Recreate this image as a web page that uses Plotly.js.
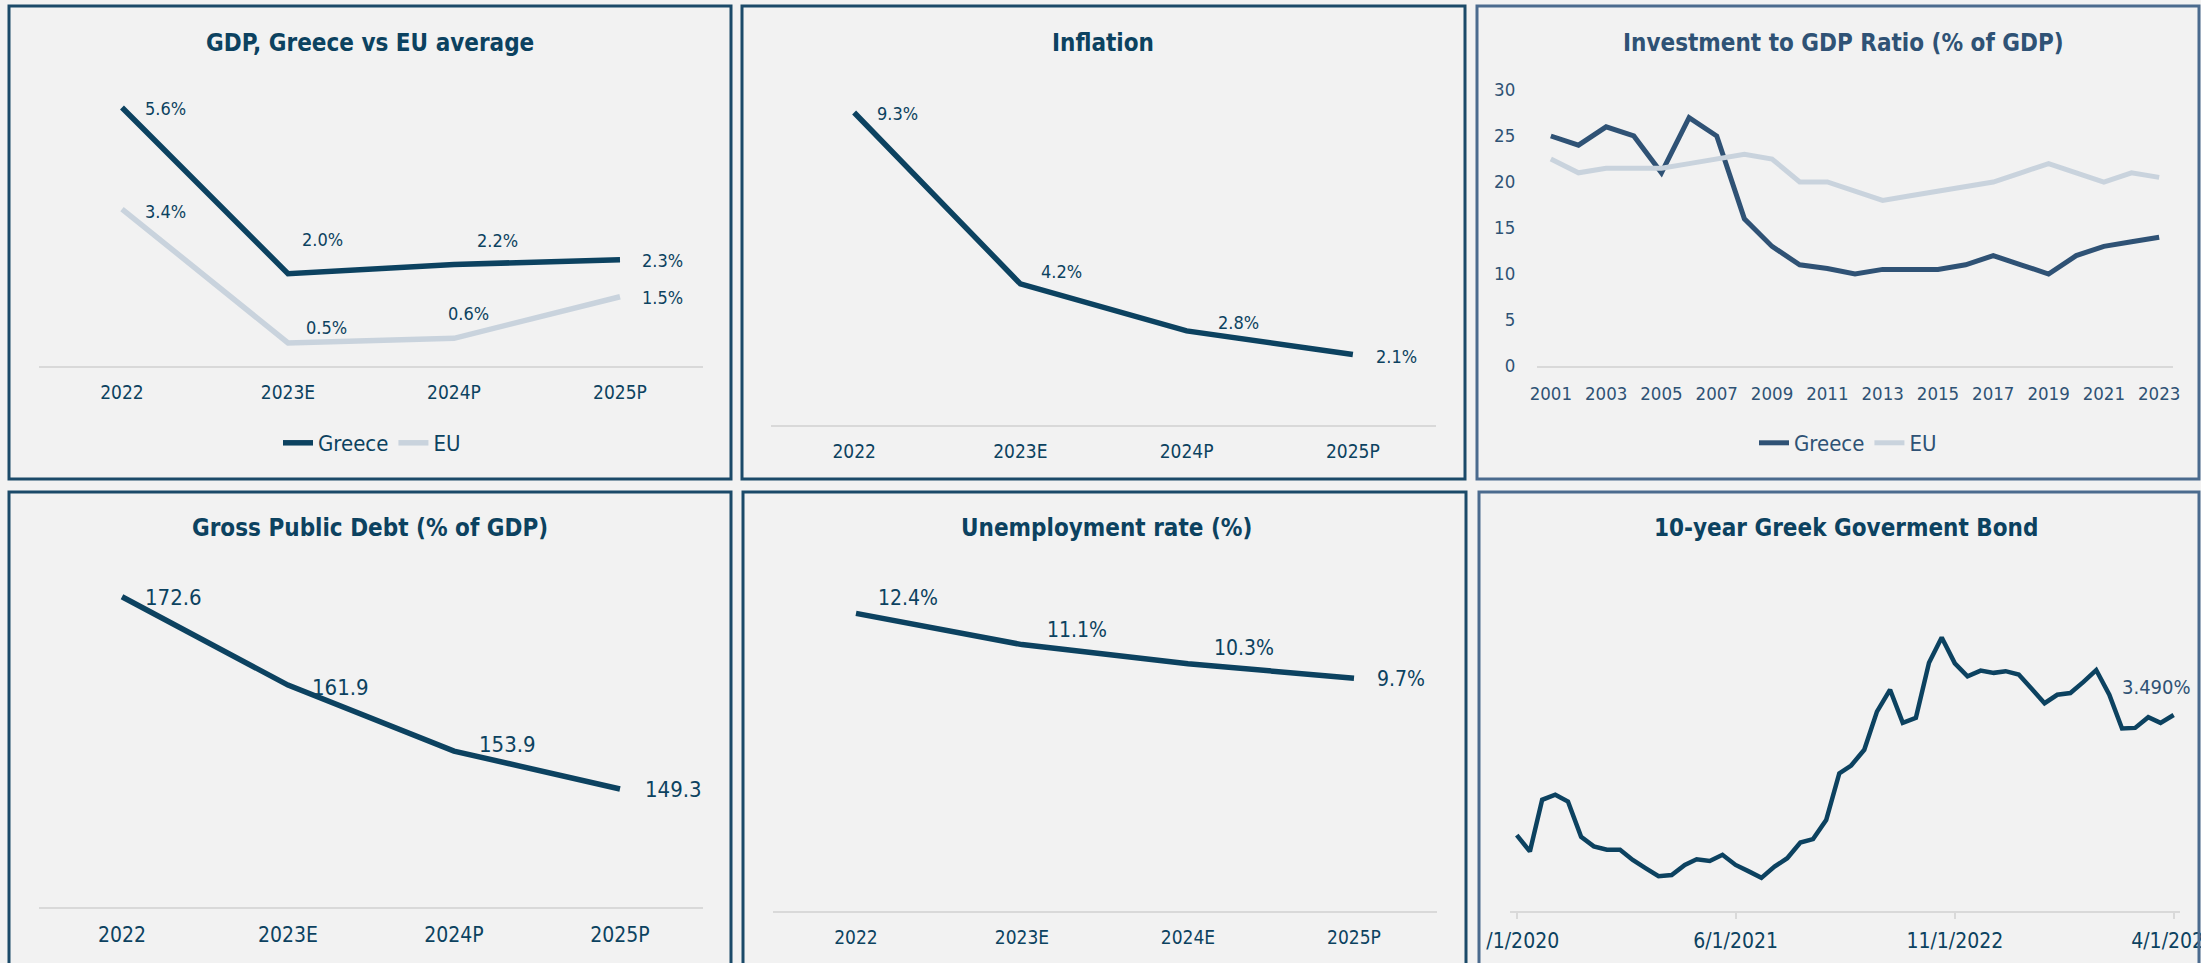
<!DOCTYPE html>
<html><head><meta charset="utf-8">
<script src="https://cdn.plot.ly/plotly-3.0.1.min.js"></script>
<style>html,body{margin:0;padding:0;background:#f2f2f2;overflow:hidden}#chart{width:2201px;height:963px}</style>
</head><body><div id="chart"></div>
<script>
// ---------------- DATA ----------------
const gdpCategories = ['2022', '2023E', '2024P', '2025P'];
const gdpGreece = [5.6, 2.0, 2.2, 2.3];
const gdpEU = [3.4, 0.5, 0.6, 1.5];

const inflationCategories = ['2022', '2023E', '2024P', '2025P'];
const inflationValues = [9.3, 4.2, 2.8, 2.1];

const investYears = [2001, 2002, 2003, 2004, 2005, 2006, 2007, 2008, 2009, 2010, 2011, 2012,
  2013, 2014, 2015, 2016, 2017, 2018, 2019, 2020, 2021, 2022, 2023];
const investGreece = [25, 24, 26, 25, 21, 27, 25, 16, 13, 11, 10.6, 10, 10.5, 10.5, 10.5, 11, 12, 11, 10, 12, 13, 13.5, 14];
const investEU = [22.5, 21, 21.5, 21.5, 21.5, 22, 22.5, 23, 22.5, 20, 20, 19, 18, 18.5, 19, 19.5, 20, 21, 22, 21, 20, 21, 20.5];
const investYTicks = [0, 5, 10, 15, 20, 25, 30];

const debtCategories = ['2022', '2023E', '2024P', '2025P'];
const debtValues = [172.6, 161.9, 153.9, 149.3];

const unempCategories = ['2022', '2023E', '2024E', '2025P'];
const unempValues = [12.4, 11.1, 10.3, 9.7];

const bondDates = [
  '2020-01-01', '2020-02-01', '2020-03-01', '2020-04-01', '2020-05-01', '2020-06-01',
  '2020-07-01', '2020-08-01', '2020-09-01', '2020-10-01', '2020-11-01', '2020-12-01',
  '2021-01-01', '2021-02-01', '2021-03-01', '2021-04-01', '2021-05-01', '2021-06-01',
  '2021-07-01', '2021-08-01', '2021-09-01', '2021-10-01', '2021-11-01', '2021-12-01',
  '2022-01-01', '2022-02-01', '2022-03-01', '2022-04-01', '2022-05-01', '2022-06-01',
  '2022-07-01', '2022-08-01', '2022-09-01', '2022-10-01', '2022-11-01', '2022-12-01',
  '2023-01-01', '2023-02-01', '2023-03-01', '2023-04-01', '2023-05-01', '2023-06-01',
  '2023-07-01', '2023-08-01', '2023-09-01', '2023-10-01', '2023-11-01', '2023-12-01',
  '2024-01-01', '2024-02-01', '2024-03-01', '2024-04-01'];
const bondYields = [
  1.35, 1.06, 1.98, 2.07, 1.95, 1.32, 1.15, 1.09, 1.09, 0.91, 0.76, 0.62,
  0.64, 0.82, 0.92, 0.89, 1.00, 0.82, 0.71, 0.59, 0.79, 0.94, 1.22, 1.28,
  1.62, 2.45, 2.59, 2.87, 3.55, 3.94, 3.35, 3.44, 4.42, 4.87, 4.41, 4.18,
  4.28, 4.24, 4.27, 4.21, 3.96, 3.70, 3.85, 3.88, 4.08, 4.29, 3.85, 3.25,
  3.26, 3.45, 3.35, 3.49];
const bondTickDates = ['2020-01-01', '2021-06-01', '2022-11-01', '2024-04-01'];
const bondTickLabels = ['1/1/2020', '6/1/2021', '11/1/2022', '4/1/2024'];

// ---------------- STYLE ----------------
const W = 2201, H = 963;
const BG = '#f2f2f2';
const NAVY = '#0c4260';
const EUC = '#c9d3dd';
const STEEL = '#2f5275';
const BORDER = '#1b4a69';
const BORDER2 = '#4b6b8e';
const AXIS = '#d9d9d9';
const CLEAR = 'rgba(0,0,0,0)';
const FONT = '"DejaVu Sans Condensed", "Liberation Sans Narrow", "Roboto Condensed", "DejaVu Sans", sans-serif';

const xd = (a, b) => [a / W, b / W];
const yd = (top, bottom) => [1 - bottom / H, 1 - top / H];

function catAxis(domain, anchor, size, extra) {
  return Object.assign({
    domain: domain, anchor: anchor, type: 'category', range: [-0.5, 3.5],
    showline: true, linecolor: AXIS, linewidth: 2, showgrid: false, zeroline: false,
    ticks: '', tickfont: {family: FONT, size: size, color: NAVY}, ticklabelstandoff: 8,
    fixedrange: true
  }, extra || {});
}
function hiddenY(domain, anchor, range) {
  return {domain: domain, anchor: anchor, range: range, visible: false, showgrid: false, zeroline: false, fixedrange: true};
}

const traces = [
  {x: gdpCategories, y: gdpGreece, xaxis: 'x', yaxis: 'y', mode: 'lines', name: 'Greece',
   line: {color: NAVY, width: 5.5}, legend: 'legend'},
  {x: gdpCategories, y: gdpEU, xaxis: 'x', yaxis: 'y', mode: 'lines', name: 'EU',
   line: {color: EUC, width: 5.5}, legend: 'legend'},
  {x: inflationCategories, y: inflationValues, xaxis: 'x2', yaxis: 'y2', mode: 'lines', showlegend: false,
   line: {color: NAVY, width: 5.5}},
  {x: investYears, y: investGreece, xaxis: 'x3', yaxis: 'y3', mode: 'lines', name: 'Greece',
   line: {color: STEEL, width: 5}, legend: 'legend2'},
  {x: investYears, y: investEU, xaxis: 'x3', yaxis: 'y3', mode: 'lines', name: 'EU',
   line: {color: EUC, width: 5}, legend: 'legend2'},
  {x: debtCategories, y: debtValues, xaxis: 'x4', yaxis: 'y4', mode: 'lines', showlegend: false,
   line: {color: NAVY, width: 5.5}},
  {x: unempCategories, y: unempValues, xaxis: 'x5', yaxis: 'y5', mode: 'lines', showlegend: false,
   line: {color: NAVY, width: 5.5}},
  {x: bondDates, y: bondYields, xaxis: 'x6', yaxis: 'y6', mode: 'lines', showlegend: false,
   line: {color: NAVY, width: 4.5}}
];

// ---------------- ANNOTATIONS ----------------
const annotations = [];
function title(text, cx, cy, color) {
  annotations.push({xref: 'paper', yref: 'paper', x: cx / W, y: 1 - cy / H, xanchor: 'center', yanchor: 'middle',
    text: '<b>' + text + '</b>', showarrow: false, font: {family: FONT, size: 24, color: color}});
}
title('GDP, Greece vs EU average', 370, 43, NAVY);
title('Inflation', 1103, 43, NAVY);
title('Investment to GDP Ratio (% of GDP)', 1843, 43, STEEL);
title('Gross Public Debt (% of GDP)', 370, 528, NAVY);
title('Unemployment rate (%)', 1106, 528, NAVY);
title('10-year Greek Goverment Bond', 1846, 528, NAVY);

// label placement (pixel offsets of label's left edge / vertical center from the point)
// category axes: position given by category index along the axis
function labels(xr, yr, cats, vals, fmt, offsets, size) {
  cats.forEach((c, i) => {
    annotations.push({xref: xr, yref: yr, x: i, y: vals[i], xanchor: 'left', yanchor: 'middle',
      xshift: offsets[i][0], yshift: -offsets[i][1], showarrow: false, text: fmt(vals[i]),
      font: {family: FONT, size: size, color: NAVY}});
  });
}
const pct1 = v => v.toFixed(1) + '%';
labels('x', 'y', gdpCategories, gdpGreece, pct1, [[21, 1], [12, -34], [21, -24], [20, 1]], 18);
labels('x', 'y', gdpCategories, gdpEU, pct1, [[21, 2], [16, -15], [-8, -25], [20, 1]], 18);
labels('x2', 'y2', inflationCategories, inflationValues, pct1, [[21, 1], [19, -12], [29, -8], [21, 2]], 18);
labels('x4', 'y4', debtCategories, debtValues, v => v.toFixed(1), [[21, 1], [22, 2], [23, -7], [23, 0]], 22);
labels('x5', 'y5', unempCategories, unempValues, pct1, [[20, -15], [23, -15], [24, -16], [21, 1]], 21);
const lastI = bondYields.length - 1;
annotations.push({xref: 'x6', yref: 'y6', x: bondDates[lastI], y: bondYields[lastI], xanchor: 'center', yanchor: 'middle',
  xshift: -17, yshift: 28, showarrow: false, text: bondYields[lastI].toFixed(3) + '%',
  font: {family: FONT, size: 20, color: STEEL}});

// ---------------- SHAPES (panel frames) ----------------
function frame(x0, y0, x1, y1, color) {
  return {type: 'rect', xref: 'paper', yref: 'paper', x0: x0 / W, x1: x1 / W, y0: 1 - y1 / H, y1: 1 - y0 / H,
    line: {color: color, width: 3}, fillcolor: CLEAR, layer: 'above'};
}
const shapes = [
  {type: 'rect', xref: 'paper', yref: 'paper', x0: 1469 / W, x1: 1485 / W, y0: 0, y1: 1 - 915 / H,
   line: {width: 0}, fillcolor: BG, layer: 'above'},
  frame(9, 6, 731, 479, BORDER),
  frame(742, 6, 1465, 479, BORDER),
  frame(1477, 6, 2199, 479, BORDER2),
  frame(9, 492, 731, 1010, BORDER),
  frame(743, 492, 1466, 1010, BORDER),
  frame(1479, 492, 2199, 1010, BORDER2)
];

// ---------------- LAYOUT ----------------
const layout = {
  width: W, height: H, margin: {l: 0, r: 0, t: 0, b: 0},
  paper_bgcolor: BG, plot_bgcolor: CLEAR,
  font: {family: FONT, color: NAVY},
  xaxis: catAxis(xd(39, 703), 'y', 19),
  yaxis: hiddenY(yd(89, 366), 'x', [0, 6]),
  xaxis2: catAxis(xd(771, 1436), 'y2', 19),
  yaxis2: hiddenY(yd(89, 425), 'x2', [0, 10]),
  xaxis3: {domain: xd(1537, 2173), anchor: 'y3', range: [2000.5, 2023.5], tick0: 2001, dtick: 2,
    showline: true, linecolor: AXIS, linewidth: 2, showgrid: false, zeroline: false, ticks: '',
    tickfont: {family: FONT, size: 18.5, color: STEEL}, ticklabelstandoff: 10, fixedrange: true},
  yaxis3: {domain: yd(90, 366), anchor: 'x3', range: [0, 30], tickvals: investYTicks,
    showline: false, showgrid: false, zeroline: false, ticks: 'outside', ticklen: 17, tickcolor: CLEAR,
    tickfont: {family: FONT, size: 18.5, color: STEEL}, fixedrange: true},
  xaxis4: catAxis(xd(39, 703), 'y4', 21),
  yaxis4: hiddenY(yd(577, 907), 'x4', [135, 175]),
  xaxis5: catAxis(xd(773, 1437), 'y5', 19),
  yaxis5: hiddenY(yd(575, 911), 'x5', [0, 14]),
  xaxis6: {domain: xd(1510, 2180), anchor: 'y6', type: 'date', range: ['2019-12-16', '2024-04-16'],
    tickvals: bondTickDates, ticktext: bondTickLabels, showline: true, linecolor: AXIS, linewidth: 2,
    showgrid: false, zeroline: false, ticks: 'outside', ticklen: 6, tickwidth: 2, tickcolor: AXIS,
    tickfont: {family: FONT, size: 21, color: NAVY}, ticklabelstandoff: 4, ticklabeloverflow: 'allow',
    fixedrange: true},
  yaxis6: hiddenY(yd(574, 911), 'x6', [0, 6]),
  legend: {x: 372 / W, xanchor: 'center', y: 1 - 443 / H, yanchor: 'middle', orientation: 'h',
    font: {family: FONT, size: 22, color: NAVY}, bgcolor: CLEAR},
  legend2: {x: 1848 / W, xanchor: 'center', y: 1 - 443 / H, yanchor: 'middle', orientation: 'h',
    font: {family: FONT, size: 22, color: STEEL}, bgcolor: CLEAR},
  annotations: annotations,
  shapes: shapes,
  showlegend: true
};

Plotly.newPlot('chart', traces, layout, {staticPlot: true, displayModeBar: false});
</script>
</body></html>
